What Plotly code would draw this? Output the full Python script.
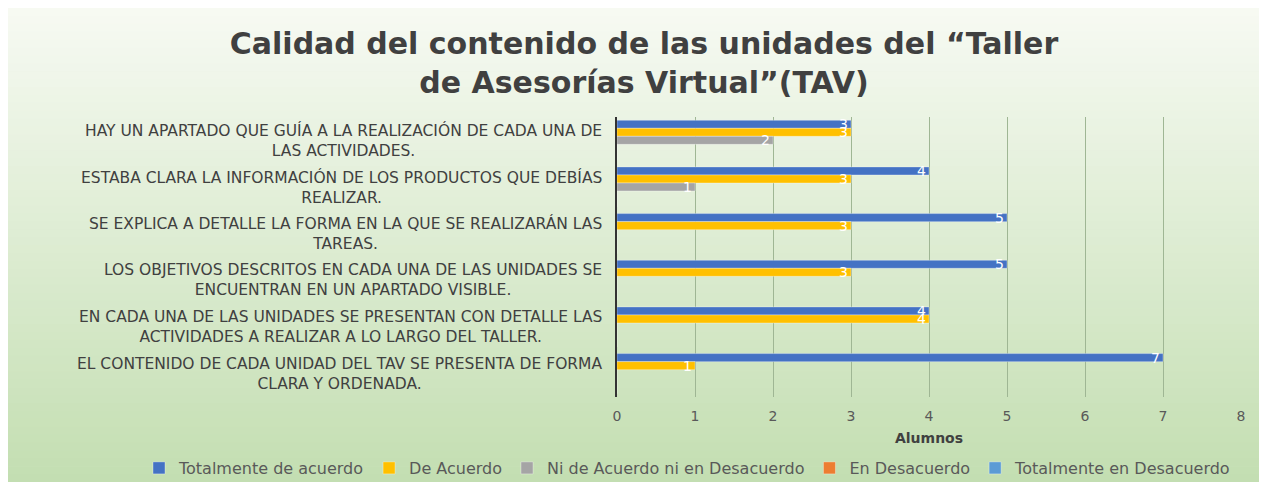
import plotly.graph_objects as go

# ---------------- data ----------------
categories = [
    "HAY UN APARTADO QUE GUÍA A LA REALIZACIÓN DE CADA UNA DE<br>LAS ACTIVIDADES.",
    "ESTABA CLARA LA INFORMACIÓN DE LOS PRODUCTOS QUE DEBÍAS<br>REALIZAR.",
    "SE EXPLICA A DETALLE LA FORMA EN LA QUE SE REALIZARÁN LAS<br>TAREAS.",
    "LOS OBJETIVOS DESCRITOS EN CADA UNA DE LAS UNIDADES SE<br>ENCUENTRAN EN UN APARTADO VISIBLE.",
    "EN CADA UNA DE LAS UNIDADES SE PRESENTAN CON DETALLE LAS<br>ACTIVIDADES A REALIZAR A LO LARGO DEL TALLER.",
    "EL CONTENIDO DE CADA UNIDAD DEL TAV SE PRESENTA DE FORMA<br>CLARA Y ORDENADA.",
]
totalmente_de_acuerdo = [3, 4, 5, 5, 4, 7]
de_acuerdo = [3, 3, 3, 3, 4, 1]
ni_de_acuerdo_ni_en_desacuerdo = [2, 1, 0, 0, 0, 0]
en_desacuerdo = [0, 0, 0, 0, 0, 0]
totalmente_en_desacuerdo = [0, 0, 0, 0, 0, 0]

series_names = [
    "Totalmente de acuerdo",
    "De Acuerdo",
    "Ni de Acuerdo ni en Desacuerdo",
    "En Desacuerdo",
    "Totalmente en Desacuerdo",
]
series_values = [
    totalmente_de_acuerdo,
    de_acuerdo,
    ni_de_acuerdo_ni_en_desacuerdo,
    en_desacuerdo,
    totalmente_en_desacuerdo,
]
series_colors = ["#4472C4", "#FFC000", "#A5A5A5", "#ED7D31", "#5B9BD5"]
x_ticks = [0, 1, 2, 3, 4, 5, 6, 7, 8]

title_text = "Calidad del contenido de las unidades del “Taller<br>de Asesorías Virtual”(TAV)"
x_title = "Alumnos"

# ---------------- layout geometry ----------------
# the page body keeps its default 8px margin -> figure starts at (8, 8)
OFF = 8
W, H = 1267 - OFF, 482 - OFF
ML, MT = 617 - OFF, 117 - OFF
PR, PB = 1241 - OFF, 397 - OFF
MR, MB = W - PR, H - PB
PW, PH = W - ML - MR, H - MT - MB


def px_x(px):  # screen px -> paper
    return (px - OFF - ML) / PW


def px_y(py):  # screen px -> paper
    return (PB - (py - OFF)) / PH


fig = go.Figure()

for name, vals, col in zip(series_names, series_values, series_colors):
    fig.add_trace(go.Bar(
        y=categories,
        x=vals,
        name=name,
        orientation="h",
        marker=dict(color=col, line=dict(width=0.6, color="rgba(255,255,255,0.55)")),
        text=[str(v) if v else "" for v in vals],
        textposition="inside",
        insidetextanchor="end",
        textangle=0,
        constraintext="none",
        textfont=dict(color="white", size=14, family="DejaVu Sans"),
        cliponaxis=False,
    ))

# gradient background (light top -> green bottom)
top_c = (247, 250, 243)
bot_c = (195, 222, 177)
n = 60
shapes = []
for i in range(n):
    a = H * i / n
    b = H * (i + 1) / n + 0.6
    t = (i + 0.5) / n
    c = tuple(round(top_c[k] + (bot_c[k] - top_c[k]) * t) for k in range(3))
    shapes.append(dict(
        type="rect", xref="paper", yref="paper", layer="below",
        x0=-ML / PW - 0.01, x1=(W - ML) / PW + 0.01,
        y0=(PB - b) / PH, y1=(PB - a) / PH,
        fillcolor="rgb(%d,%d,%d)" % c, line=dict(width=0),
    ))

annotations = []
for cat in categories:
    annotations.append(dict(
        x=px_x(604), xref="paper", y=cat, yref="y",
        text=cat, showarrow=False, xanchor="right", yanchor="middle",
        align="center",
        font=dict(family="DejaVu Sans", size=15.5, color="#404040"),
    ))

fig.update_layout(
    width=W, height=H,
    margin=dict(l=ML, r=MR, t=MT, b=MB, autoexpand=False),
    paper_bgcolor="rgb(222,236,211)",
    plot_bgcolor="rgba(0,0,0,0)",
    barmode="group",
    bargap=0.14,
    bargroupgap=0,
    shapes=shapes,
    annotations=annotations,
    title=dict(
        text=title_text, xref="container", x=636 / W, xanchor="center",
        yref="container", y=1 - 46 / H, yanchor="top",
        font=dict(family="DejaVu Sans", size=30, color="#404040", weight="bold"),
    ),
    showlegend=True,
    legend=dict(
        orientation="h", x=px_x(139), xanchor="left", y=px_y(451), yanchor="top",
        font=dict(family="DejaVu Sans", size=16, color="#595959"),
        bgcolor="rgba(0,0,0,0)", traceorder="normal",
        itemwidth=30,
    ),
    uniformtext=dict(minsize=14, mode="show"),
    font=dict(family="DejaVu Sans", color="#595959"),
)

fig.update_xaxes(
    range=[0, 8], tickvals=x_ticks, ticktext=[str(v) for v in x_ticks],
    showgrid=True, gridcolor="#9FB694", gridwidth=1,
    zeroline=False, showline=False,
    ticks="outside", ticklen=6, tickcolor="rgba(0,0,0,0)",
    tickfont=dict(family="DejaVu Sans", size=14, color="#595959"),
    title=dict(text=x_title, standoff=10,
               font=dict(family="DejaVu Sans", size=14, color="#404040", weight="bold")),
)
fig.update_yaxes(
    autorange="reversed", showticklabels=False, showgrid=False,
    showline=True, linecolor="#333333", linewidth=2,
    zeroline=False,
)

fig.write_html("out.html")
